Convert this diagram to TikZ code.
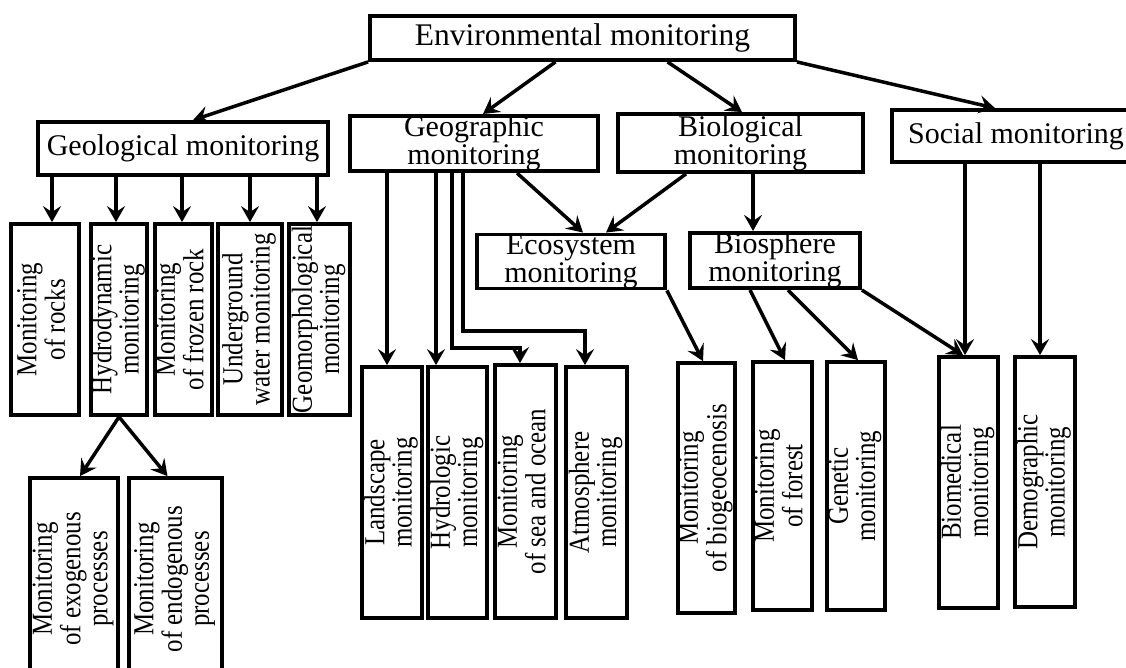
\documentclass[tikz,border=0pt]{standalone}
\usepackage{fontspec}
\setmainfont{Liberation Serif}
\newfontfamily\vertfont[FakeStretch=0.86]{Liberation Serif}
\usetikzlibrary{arrows.meta,calc}
\tikzset{
  hbox/.style={draw, line width=3.8pt, rectangle, inner sep=0pt, align=center,
    font=\fontsize{30}{28}\selectfont},
  vbox/.style={draw, line width=3.8pt, rectangle, inner sep=0pt,
    font=\vertfont\fontsize{29}{27}\selectfont},
  arr/.style={line width=3.5pt, -{Stealth[length=16pt,width=18pt,inset=6pt]}},
}
\newcommand\VertBox[5]{\node[vbox, minimum width=#3pt, minimum height=#4pt] (#1) at (#2)
  {\rotatebox{90}{\begin{tabular}{@{}c@{}}#5\end{tabular}}};}
\begin{document}
\begin{tikzpicture}[x=1pt,y=-1pt]
\useasboundingbox (0,0) rectangle (1126,667);
\fill[white] (0,0) rectangle (1126,667);
% top level
\node[hbox, minimum width=425pt, minimum height=44pt, font=\fontsize{31.5}{30}\selectfont] (env) at (582.5,38) {Environmental monitoring};
% second level
\node[hbox, minimum width=290pt, minimum height=53pt] (geol) at (183,148.5) {Geological monitoring};
\node[hbox, minimum width=248pt, minimum height=53pt] (geog) at (474,143.5) {Geographic\\monitoring};
\node[hbox, minimum width=245pt, minimum height=58pt] (bio) at (740.5,143) {Biological\\monitoring};
\node[hbox, minimum width=248pt, minimum height=52pt] (soc) at (1016,136) {Social monitoring};
% third level
\node[hbox, minimum width=188pt, minimum height=53pt] (eco) at (571,261.5) {Ecosystem\\monitoring};
\node[hbox, minimum width=170pt, minimum height=55pt] (bsp) at (775,260.5) {Biosphere\\monitoring};
% geological children
\VertBox{rocks}{45,319.5}{68}{191}{Monitoring\\of rocks}
\VertBox{hydro}{119,319.5}{56}{191}{Hydrodynamic\\monitoring}
\VertBox{frozen}{183.5,319.5}{57}{191}{Monitoring\\of frozen rock}
\VertBox{under}{250,319.5}{64}{191}{Underground\\water monitoring}
\VertBox{geom}{319.5,319.5}{61}{191}{Geomorphological\\monitoring}
\VertBox{exo}{74,579}{88}{202}{Monitoring\\of exogenous\\processes}
\VertBox{endo}{175.5,579}{93}{202}{Monitoring\\of endogenous\\processes}
% geographic children
\VertBox{land}{392,492.5}{60}{251}{Landscape\\monitoring}
\VertBox{hydl}{457.5,492.5}{59}{251}{Hydrologic\\monitoring}
\VertBox{sea}{525.5,491.5}{61}{253}{Monitoring\\of sea and ocean}
\VertBox{atm}{596.5,492.5}{61}{251}{Atmosphere\\monitoring}
% biological children
\VertBox{biog}{706.5,488}{57}{250}{Monitoring\\of biogeocenosis}
\VertBox{forest}{782.5,486}{59}{248}{Monitoring\\of forest}
\VertBox{gen}{856,486}{58}{248}{Genetic\\monitoring}
% social children
\VertBox{biomed}{968.5,482.5}{59}{251}{Biomedical\\monitoring}
\VertBox{demo}{1045,482}{60}{250}{Demographic\\monitoring}
% connectors from top
\draw[arr] (env.south west) -- ([xshift=10pt]geol.north);
\draw[arr] ([xshift=-27pt]env.south) -- ([xshift=9pt]geog.north);
\draw[arr] ([xshift=85pt]env.south) -- ([xshift=1.5pt]bio.north);
\draw[arr] (env.south east) -- ([xshift=-21pt]soc.north);
% geological
\draw[arr] ([xshift=-131pt]geol.south) -- ([xshift=7pt]rocks.north);
\draw[arr] ([xshift=-67pt]geol.south) -- ([xshift=-3pt]hydro.north);
\draw[arr] ([xshift=-1pt]geol.south) -- ([xshift=-1.5pt]frozen.north);
\draw[arr] ([xshift=67pt]geol.south) -- (under.north);
\draw[arr] ([xshift=134pt]geol.south) -- ([xshift=-2.5pt]geom.north);
\draw[arr] (hydro.south) -- ([xshift=6pt]exo.north);
\draw[arr] (hydro.south) -- ([xshift=-8pt]endo.north);
% geographic
\draw[arr] ([xshift=-87pt]geog.south) -- ([xshift=-5pt]land.north);
\draw[arr] ([xshift=-38pt]geog.south) -- ([xshift=-21.5pt]hydl.north);
\draw[arr] ([xshift=-22pt]geog.south) |- ($(sea.north)+(-5.5,-15)$) -- ([xshift=-5.5pt]sea.north);
\draw[arr] ([xshift=-11pt]geog.south) |- ($(atm.north)+(-11.5,-34)$) -- ([xshift=-11.5pt]atm.north);
\draw[arr] ([xshift=43pt]geog.south) -- ([xshift=12pt]eco.north);
% biological
\draw[arr] ([xshift=-54.5pt]bio.south) -- ([xshift=35pt]eco.north);
\draw[arr] ([xshift=12.5pt]bio.south) -- ([xshift=-22pt]bsp.north);
\draw[arr] (eco.south east) -- ([xshift=-3.5pt]biog.north);
\draw[arr] ([xshift=-25pt]bsp.south) -- ([xshift=2.5pt]forest.north);
\draw[arr] ([xshift=13pt]bsp.south) -- ([xshift=2pt]gen.north);
\draw[arr] (bsp.south east) -- ([xshift=-5.5pt]biomed.north);
% social
\draw[arr] ([xshift=-51pt]soc.south) -- ([xshift=-3.5pt]biomed.north);
\draw[arr] ([xshift=24pt]soc.south) -- ([xshift=-5pt]demo.north);
\end{tikzpicture}
\end{document}
